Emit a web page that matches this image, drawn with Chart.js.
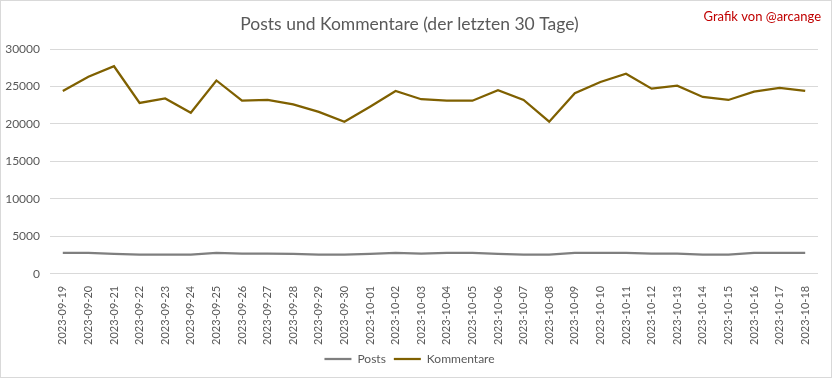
<!DOCTYPE html>
<html lang="de">
  <head>
    <meta charset="UTF-8" />
    <title>Posts und Kommentare</title>
    <script src="https://cdn.jsdelivr.net/npm/chart.js"></script>
    <style>
      html, body { margin: 0; padding: 0; background: #fff; }
      .chart-container {
        width: 832px;
        height: 378px;
        box-sizing: border-box;
        border: 1px solid #d9d9d9;
        position: relative;
      }
    </style>
  </head>
  <body>
    <div class="chart-container">
      <canvas id="grafik"></canvas>
    </div>

    <script>
      const tage = [
        "2023-09-19", "2023-09-20", "2023-09-21", "2023-09-22", "2023-09-23",
        "2023-09-24", "2023-09-25", "2023-09-26", "2023-09-27", "2023-09-28",
        "2023-09-29", "2023-09-30", "2023-10-01", "2023-10-02", "2023-10-03",
        "2023-10-04", "2023-10-05", "2023-10-06", "2023-10-07", "2023-10-08",
        "2023-10-09", "2023-10-10", "2023-10-11", "2023-10-12", "2023-10-13",
        "2023-10-14", "2023-10-15", "2023-10-16", "2023-10-17", "2023-10-18"
      ];
      const posts = [
        2800, 2800, 2650, 2550, 2550, 2550, 2800, 2700, 2700, 2650,
        2550, 2550, 2650, 2800, 2700, 2800, 2800, 2650, 2550, 2550,
        2800, 2800, 2800, 2700, 2700, 2550, 2550, 2800, 2800, 2800
      ];
      const kommentare = [
        24400, 26300, 27700, 22800, 23400, 21500, 25800, 23100, 23200, 22600,
        21600, 20300, 22300, 24400, 23300, 23100, 23100, 24500, 23200, 20300,
        24100, 25600, 26700, 24700, 25100, 23600, 23200, 24300, 24800, 24400
      ];
      const yTicks = [0, 5000, 10000, 15000, 20000, 25000, 30000];

      const schrift = "Lato, 'Open Sans', sans-serif";
      const textFarbe = "#595959";

      // Signatur oben rechts
      const signatur = {
        id: "signatur",
        afterDraw(chart) {
          const ctx = chart.ctx;
          ctx.save();
          ctx.font = "13px " + schrift;
          ctx.fillStyle = "#c00000";
          ctx.textAlign = "right";
          ctx.textBaseline = "middle";
          ctx.fillText("Grafik von @arcange", 820, 16);
          ctx.restore();
        },
      };

      const ctx = document.getElementById("grafik").getContext("2d");
      new Chart(ctx, {
        type: "line",
        data: {
          labels: tage,
          datasets: [
            {
              label: "Posts",
              data: posts,
              borderColor: "#7f7f7f",
              backgroundColor: "#7f7f7f",
              borderWidth: 2.25,
              pointRadius: 0,
              tension: 0,
            },
            {
              label: "Kommentare",
              data: kommentare,
              borderColor: "#7f6000",
              backgroundColor: "#7f6000",
              borderWidth: 2.25,
              pointRadius: 0,
              tension: 0,
            },
          ],
        },
        options: {
          responsive: true,
          maintainAspectRatio: false,
          animation: false,
          layout: { padding: { left: 0, right: 13, top: 5, bottom: 2 } },
          scales: {
            x: {
              offset: true,
              grid: { display: false },
              border: { display: false },
              ticks: {
                color: textFarbe,
                padding: 4,
                font: { size: 11, family: schrift },
                minRotation: 90,
                maxRotation: 90,
                autoSkip: false,
              },
              afterFit: (achse) => {
                achse.height -= 4;
              },
            },
            y: {
              min: 0,
              max: 30000,
              afterBuildTicks: (achse) => {
                achse.ticks = yTicks.map((v) => ({ value: v }));
              },
              afterFit: (achse) => {
                achse.width = 49;
              },
              grid: { color: "#d9d9d9", drawTicks: false },
              border: { display: false },
              ticks: {
                color: textFarbe,
                padding: 10,
                font: { size: 12, family: schrift },
                callback: (v) => String(v),
              },
            },
          },
          plugins: {
            title: {
              display: true,
              text: "Posts und Kommentare (der letzten 30 Tage)",
              color: textFarbe,
              font: { size: 17.5, family: schrift, weight: "normal" },
              padding: { top: 8, bottom: 14 },
            },
            legend: {
              position: "bottom",
              labels: {
                color: textFarbe,
                usePointStyle: true,
                pointStyle: "line",
                pointStyleWidth: 27,
                padding: 8,
                font: { size: 12, family: schrift },
              },
            },
            tooltip: { enabled: false },
          },
        },
        plugins: [signatur],
      });
    </script>
  </body>
</html>
